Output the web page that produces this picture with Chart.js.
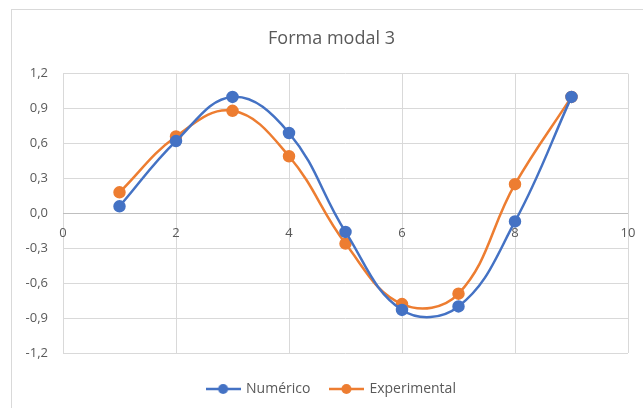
<!DOCTYPE html>
<html>
<head>
<meta charset="utf-8">
<script src="https://cdn.jsdelivr.net/npm/chart.js@4.4.0/dist/chart.umd.min.js"></script>
<style>
  html, body { margin: 0; padding: 0; background: #ffffff; }
  #wrap { position: relative; width: 643px; height: 408px; }
</style>
</head>
<body>
<div id="wrap"><canvas id="grafico" width="643" height="408"></canvas></div>
<script>
// Datos de la forma modal 3
const posiciones = [1, 2, 3, 4, 5, 6, 7, 8, 9];
const numerico = [0.06, 0.62, 1.0, 0.69, -0.16, -0.83, -0.80, -0.07, 1.0];
const experimental = [0.18, 0.66, 0.88, 0.49, -0.26, -0.78, -0.69, 0.25, 1.0];
const etiquetas = ['Numérico', 'Experimental'];
const colores = ['#4472C4', '#ED7D31'];

const fuente = "'Open Sans', 'Liberation Sans', sans-serif";
const gris = '#595959';

// Icono de leyenda: linea con punto
function iconoLeyenda(color) {
    const c = document.createElement('canvas');
    c.width = 35;
    c.height = 12;
    const g = c.getContext('2d');
    g.strokeStyle = color;
    g.lineWidth = 2.5;
    g.beginPath();
    g.moveTo(0, 6);
    g.lineTo(35, 6);
    g.stroke();
    g.fillStyle = color;
    g.beginPath();
    g.arc(17.5, 6, 5, 0, Math.PI * 2);
    g.fill();
    return c;
}

// Marco exterior del grafico
const marco = {
    id: 'marco',
    beforeDraw(chart) {
        const ctx = chart.ctx;
        ctx.save();
        ctx.strokeStyle = '#d9d9d9';
        ctx.lineWidth = 1;
        ctx.strokeRect(11.5, 9.5, 700, 500);
        ctx.restore();
    }
};

const datos = {
    datasets: [numerico, experimental].map((serie, i) => ({
        label: etiquetas[i],
        data: serie.map((v, j) => ({ x: posiciones[j], y: v })),
        borderColor: colores[i],
        backgroundColor: colores[i],
        pointBackgroundColor: colores[i],
        pointBorderColor: colores[i],
        borderWidth: 2.5,
        pointRadius: 5,
        tension: 0.4
    }))
};

const config = {
    type: 'line',
    data: datos,
    options: {
        responsive: false,
        animation: false,
        layout: { padding: { left: 20, right: 0, top: 10, bottom: 2 } },
        plugins: {
            title: {
                display: true,
                text: 'Forma modal 3',
                color: gris,
                font: { family: fuente, size: 18, weight: 'normal' },
                padding: { top: 18, bottom: 24 }
            },
            legend: {
                position: 'bottom',
                title: {
                    display: true,
                    text: ' ',
                    font: { size: 5 },
                    padding: { top: 0, bottom: 3 }
                },
                labels: {
                    color: gris,
                    font: { family: fuente, size: 14 },
                    usePointStyle: true,
                    pointStyleWidth: 32,
                    boxHeight: 12,
                    padding: 20,
                    generateLabels(chart) {
                        return chart.data.datasets.map((ds, i) => ({
                            text: ds.label,
                            pointStyle: iconoLeyenda(colores[i]),
                            fillStyle: colores[i],
                            strokeStyle: colores[i],
                            lineWidth: 0,
                            fontColor: gris,
                            datasetIndex: i
                        }));
                    }
                }
            },
            tooltip: { enabled: false }
        },
        scales: {
            x: {
                type: 'linear',
                position: { y: 0 },
                min: 0,
                max: 10,
                afterFit(scale) { scale.paddingRight = 0; scale.paddingLeft = 0; },
                ticks: {
                    stepSize: 2,
                    color: gris,
                    font: { family: fuente, size: 13 },
                    padding: 12
                },
                grid: { color: '#d9d9d9', drawTicks: false },
                border: { display: false }
            },
            y: {
                min: -1.2,
                max: 1.2,
                afterFit(scale) { scale.width = 43; },
                ticks: {
                    stepSize: 0.3,
                    color: gris,
                    font: { family: fuente, size: 13 },
                    padding: 15,
                    callback: v => v.toFixed(1).replace('.', ',')
                },
                grid: {
                    drawTicks: false,
                    color: c => (c.tick && Math.abs(c.tick.value) < 1e-9) ? '#bfbfbf' : '#d9d9d9'
                },
                border: { display: false }
            },
            // eje auxiliar vacio a la derecha (margen)
            margen: {
                position: 'right',
                afterFit(scale) { scale.width = 15; },
                ticks: { display: false },
                grid: { display: false },
                border: { display: false }
            }
        }
    },
    plugins: [marco]
};

const ctx = document.getElementById('grafico').getContext('2d');
new Chart(ctx, config);
</script>
</body>
</html>
